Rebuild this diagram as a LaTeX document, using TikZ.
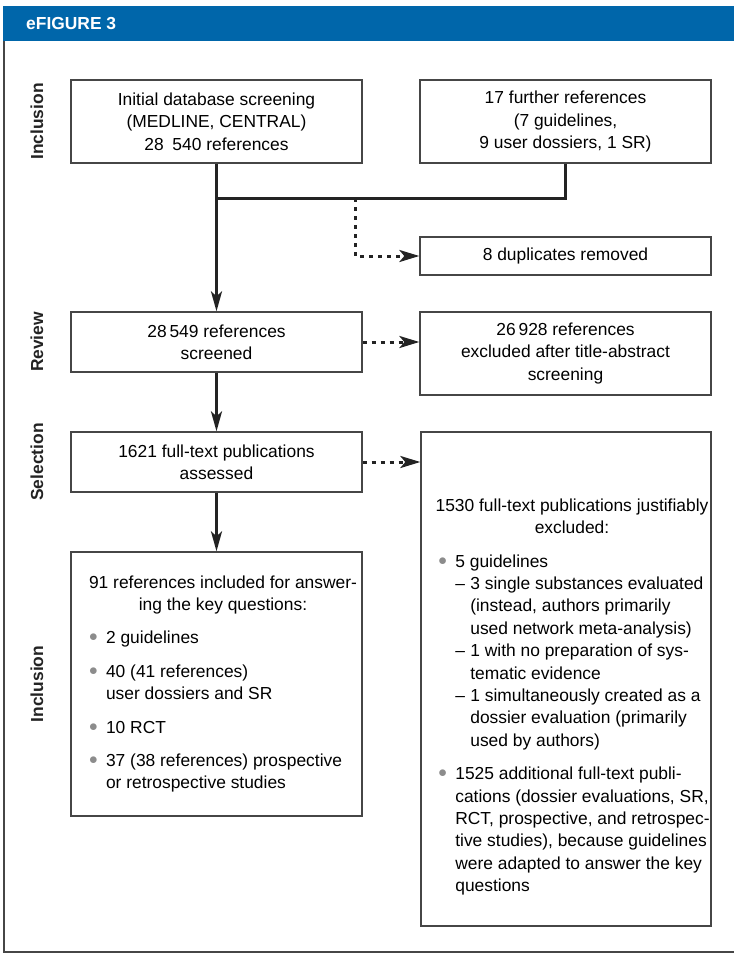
\documentclass[tikz,border=0pt]{standalone}
\usepackage{fontspec}
\setmainfont{Liberation Sans}
\usepackage{tikz}
\usetikzlibrary{arrows.meta, positioning}

\definecolor{headerblue}{RGB}{0,102,170}
\definecolor{boxgray}{RGB}{70,70,70}
\definecolor{linegray}{RGB}{35,35,35}
\definecolor{bulletgray}{RGB}{140,140,140}

\newcommand{\bulletmark}{\raisebox{2pt}{\textcolor{bulletgray}{$\bullet$}}}

\begin{document}
\begin{tikzpicture}[
    x=1pt, y=-1pt,
    box_style/.style={draw=boxgray, line width=1.3pt, minimum width=291pt, inner sep=0pt, align=center, font=\fontsize{17.4}{22.4}\selectfont},
    flow_style/.style={line width=3pt, linegray},
    arrow_style/.style={flow_style, -{Stealth[length=20pt, width=11pt, inset=5pt]}},
    dotted_style/.style={line width=3pt, linegray, dash pattern=on 4pt off 5pt, -{Stealth[length=20pt, width=12pt, inset=5pt]}},
    phase_style/.style={rotate=90, inner sep=0pt, text=linegray, font=\fontsize{17.4}{20}\selectfont\bfseries},
    frame_style/.style={line width=1.3pt, boxgray}
]
    \useasboundingbox (0,0) rectangle (734,954);

    % Header bar and frame
    \fill[headerblue] (3,6) rectangle (734,41);
    \node[anchor=west, inner sep=0pt, text=white, font=\fontsize{17.4}{20}\selectfont\bfseries] (fig_title) at (26,24) {eFIGURE 3};
    \draw[frame_style] (4,41) -- (4,952) -- (734,952);

    % Phases
    \node[phase_style] (phase_inclusion) at (37,121.5) {Inclusion};
    \node[phase_style] (phase_review) at (37,342) {Review};
    \node[phase_style] (phase_selection) at (37,462) {Selection};
    \node[phase_style] (phase_included) at (37,684) {Inclusion};

    % Boxes
    \node[box_style, minimum height=83pt] (box_initial) at (216.5,121.5) {Initial database screening\\(MEDLINE, CENTRAL)\\28\enspace540 references};
    \node[box_style, minimum height=83pt] (box_further) at (565.5,121.5) {17 further references\\(7 guidelines,\\9 user dossiers, 1 SR)};
    \node[box_style, minimum height=38pt] (box_duplicates) at (565.5,256) {8 duplicates removed};
    \node[box_style, minimum height=60pt] (box_screened) at (216.5,342) {28\,549 references\\screened};
    \node[box_style, minimum height=83pt] (box_excluded_ta) at (565.5,353.5) {26\,928 references\\excluded after title-abstract\\screening};
    \node[box_style, minimum height=60pt] (box_assessed) at (216.5,462) {1621 full-text publications\\assessed};

    \node[box_style, minimum height=264pt] (box_included) at (216.5,684) {\hspace*{13pt}\begin{tabular}{@{}l@{}}
        \multicolumn{1}{@{}c@{}}{91 references included for answer-}\\
        \multicolumn{1}{@{}c@{}}{ing the key questions:}\\[11pt]
        \makebox[17pt][l]{\bulletmark}2 guidelines\\[11pt]
        \makebox[17pt][l]{\bulletmark}40 (41 references)\\
        \hspace*{17pt}user dossiers and SR\\[11pt]
        \makebox[17pt][l]{\bulletmark}10 RCT\\[11pt]
        \makebox[17pt][l]{\bulletmark}37 (38 references) prospective\\
        \hspace*{17pt}or retrospective studies
    \end{tabular}};

    \node[box_style, minimum width=290pt, minimum height=494pt] (box_excluded_ft) at (566,679) {\hspace*{12pt}\raisebox{-18pt}[\height][\depth]{\begin{tabular}{@{}l@{}}
        \multicolumn{1}{@{}c@{}}{1530 full-text publications justifiably}\\
        \multicolumn{1}{@{}c@{}}{excluded:}\\[11pt]
        \hspace*{4pt}\makebox[17pt][l]{\bulletmark}5 guidelines\\
        \hspace*{21pt}\makebox[15pt][l]{–}3 single substances evaluated\\
        \hspace*{36pt}(instead, authors primarily\\
        \hspace*{36pt}used network meta-analysis)\\
        \hspace*{21pt}\makebox[15pt][l]{–}1 with no preparation of sys-\\
        \hspace*{36pt}tematic evidence\\
        \hspace*{21pt}\makebox[15pt][l]{–}1 simultaneously created as a\\
        \hspace*{36pt}dossier evaluation (primarily\\
        \hspace*{36pt}used by authors)\\[11pt]
        \hspace*{4pt}\makebox[17pt][l]{\bulletmark}1525 additional full-text publi-\\
        \hspace*{21pt}cations (dossier evaluations, SR,\\
        \hspace*{21pt}RCT, prospective, and retrospec-\\
        \hspace*{21pt}tive studies), because guidelines\\
        \hspace*{21pt}were adapted to answer the key\\
        \hspace*{21pt}questions
    \end{tabular}}};

    % Merging both sources
    \coordinate (join_left) at (box_initial.south |- 0,198);
    \coordinate (dup_start) at (355,198);
    \draw[flow_style] (box_further.south) |- (join_left);
    \draw[arrow_style] (box_initial.south) -- (box_screened.north);
    \draw[dotted_style] (dup_start) |- (box_duplicates.west);

    % Screening and selection
    \draw[dotted_style] (box_screened.east) -- (box_screened.east -| box_excluded_ta.west);
    \draw[arrow_style] (box_screened.south) -- (box_assessed.north);
    \draw[dotted_style] (box_assessed.east) -- (box_assessed.east -| box_excluded_ft.west);
    \draw[arrow_style] (box_assessed.south) -- (box_included.north);

\end{tikzpicture}
\end{document}
